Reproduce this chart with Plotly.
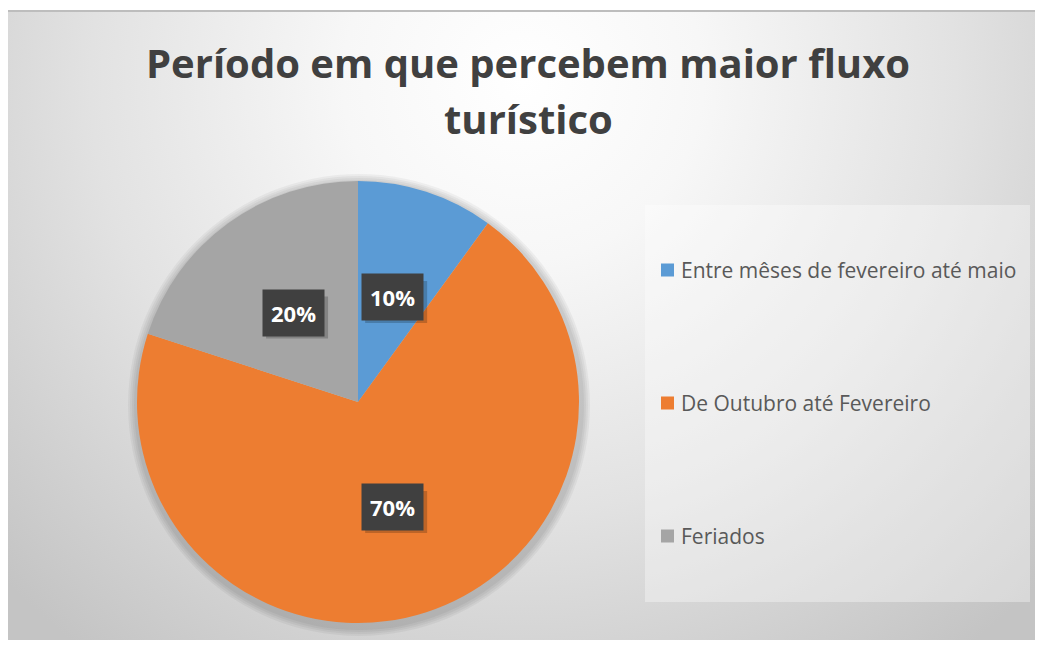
import math
import base64
import plotly.graph_objects as go

# ---- data ----
categories = ["Entre mêses de fevereiro até maio", "De Outubro até Fevereiro", "Feriados"]
values = [10, 70, 20]
colors = ["#5B9BD5", "#ED7D31", "#A5A5A5"]
title_lines = ["Período em que percebem maior fluxo", "turístico"]

W, H = 1043, 648
OX, OY = 8, 8  # page body margin offset


def px(x):
    return (x - OX) / W


def py(y):
    return 1 - (y - OY) / H


# ---- pie geometry (pixels in screenshot) ----
cx, cy, R = 358, 402, 221

fig = go.Figure()
fig.add_trace(go.Pie(
    labels=categories, values=values, sort=False, direction="clockwise", rotation=0,
    marker=dict(colors=colors, line=dict(width=0)),
    textinfo="none", hoverinfo="label+percent", showlegend=False,
    domain=dict(x=[px(cx - R), px(cx + R)], y=[py(cy + R), py(cy - R)]),
))

# background radial gradient (chart area)
x0, y0, x1, y1 = 8, 10, 1035, 640
svg = f'''<svg xmlns="http://www.w3.org/2000/svg" width="{x1-x0}" height="{y1-y0}">
<defs><radialGradient id="g" gradientUnits="userSpaceOnUse" cx="515" cy="70" r="720">
<stop offset="0" stop-color="#ffffff"/><stop offset="0.25" stop-color="#f7f7f7"/>
<stop offset="0.6" stop-color="#e2e2e2"/><stop offset="1" stop-color="#c4c4c4"/></radialGradient></defs>
<rect x="0" y="0" width="{x1-x0}" height="{y1-y0}" fill="url(#g)"/></svg>'''
src = "data:image/svg+xml;base64," + base64.b64encode(svg.encode()).decode()
images = [dict(source=src, xref="paper", yref="paper", x=px(x0), y=py(y0),
               sizex=(x1 - x0) / W, sizey=(y1 - y0) / H, xanchor="left", yanchor="top",
               sizing="stretch", layer="below")]

shapes = []
# soft shadow under pie
for i in range(4):
    g = 10 - 2 * i
    shapes.append(dict(type="circle", xref="paper", yref="paper", layer="below",
                       x0=px(cx - R - g + 1), x1=px(cx + R + g + 1),
                       y0=py(cy + R + g + 3), y1=py(cy - R - g + 3),
                       fillcolor="rgba(0,0,0,0.045)", line=dict(width=0)))
# chart border top line
shapes.append(dict(type="line", xref="paper", yref="paper", x0=px(x0), x1=px(x1),
                   y0=py(y0 + 1), y1=py(y0 + 1), line=dict(color="#bdbdbd", width=2)))

annotations = []
# title
for i, line in enumerate(title_lines):
    annotations.append(dict(text=f"<b>{line}</b>", xref="paper", yref="paper",
                            x=px(528), y=py(62 + 57 * i), showarrow=False,
                            xanchor="center", yanchor="middle",
                            font=dict(family="Open Sans", size=40, color="#404040")))

# data labels: dark boxes at half radius along slice mid-angle
total = sum(values)
cum = 0
bw, bh = 62, 42
for v in values:
    mid = (cum + v / 2) / total * 2 * math.pi
    cum += v
    lx = cx + 0.5 * R * math.sin(mid)
    ly = cy - 0.5 * R * math.cos(mid)
    txt = f"<b>{round(v / total * 100)}%</b>"
    # drop shadow behind the label box
    shapes.append(dict(type="rect", xref="paper", yref="paper", layer="above",
                       x0=px(lx - bw / 2 + 4), x1=px(lx + bw / 2 + 4),
                       y0=py(ly + bh / 2 + 5), y1=py(ly - bh / 2 + 5),
                       fillcolor="rgba(0,0,0,0.2)", line=dict(width=0)))
    annotations.append(dict(text=txt, xref="paper", yref="paper", x=px(lx), y=py(ly),
                            xanchor="center", yanchor="middle",
                            showarrow=False, bgcolor="#404040", borderpad=8,
                            font=dict(family="Open Sans", size=22, color="#ffffff")))

# legend (custom)
lx0, ly0, lx1, ly1 = 645, 205, 1030, 602
shapes.append(dict(type="rect", xref="paper", yref="paper", layer="below",
                   x0=px(lx0), x1=px(lx1), y0=py(ly1), y1=py(ly0),
                   fillcolor="rgba(255,255,255,0.35)", line=dict(width=0)))
row_y = [270, 403, 536]
for cat, col, ry in zip(categories, colors, row_y):
    shapes.append(dict(type="rect", xref="paper", yref="paper",
                       x0=px(661), x1=px(674), y0=py(ry + 6.5), y1=py(ry - 6.5),
                       fillcolor=col, line=dict(width=0)))
    annotations.append(dict(text=cat, xref="paper", yref="paper", x=px(679), y=py(ry),
                            showarrow=False, xanchor="left", yanchor="middle",
                            font=dict(family="Open Sans", size=21, color="#595959")))

fig.update_layout(width=W, height=H, margin=dict(l=0, r=0, t=0, b=0),
                  paper_bgcolor="#ffffff", plot_bgcolor="rgba(0,0,0,0)",
                  images=images, shapes=shapes, annotations=annotations)
fig.write_html("out.html")
